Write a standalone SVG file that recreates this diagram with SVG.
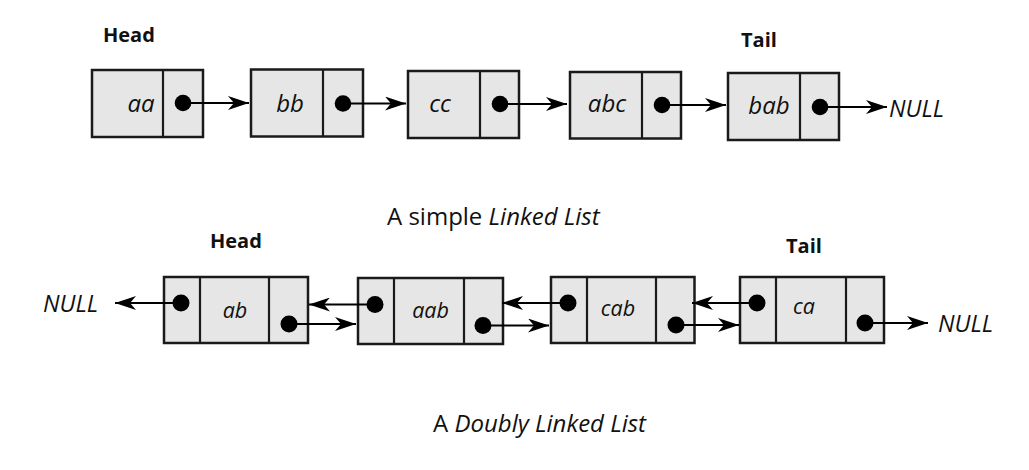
<svg xmlns="http://www.w3.org/2000/svg" width="1029" height="470" viewBox="0 0 1029 470">
<style>
.box{fill:#e6e6e6;stroke:#1a1a1a;stroke-width:2.5}
.div{stroke:#1a1a1a;stroke-width:2.2;fill:none}
.dot{fill:#000}
.ln{stroke:#000;stroke-width:2;fill:none;marker-end:url(#ah)}
.lbl{font-family:"Open Sans","Liberation Sans",Arial,sans-serif;font-style:italic;fill:#111;text-anchor:middle}
.big{font-size:24px}
.sm{font-size:21.5px}
.hd{font-family:"Open Sans","Liberation Sans",Arial,sans-serif;font-weight:bold;font-size:20px;fill:#111}
.null{font-family:"Open Sans","Liberation Sans",Arial,sans-serif;font-style:italic;font-size:23.5px;fill:#111}
.cap{font-family:"Open Sans","Liberation Sans",Arial,sans-serif;font-size:24px;fill:#111}
</style>
<defs>
<marker id="ah" markerUnits="userSpaceOnUse" viewBox="0 0 21 14" markerWidth="21" markerHeight="14" refX="21" refY="7" orient="auto">
<path d="M21 7 L0 0 L6 7 L0 14 Z" fill="#000"/>
</marker>
</defs>
<rect width="1029" height="470" fill="#fff"/>

<g id="labels">
<text class="hd" x="103" y="42">Head</text>
<text class="hd" x="741" y="47">Tail</text>
<text class="hd" x="210" y="248">Head</text>
<text class="hd" x="786" y="253">Tail</text>
<text class="null" x="889" y="117">NULL</text>
<text class="null" x="43" y="312">NULL</text>
<text class="null" x="938" y="332">NULL</text>
<text class="cap" x="387" y="225">A simple <tspan font-style="italic">Linked List</tspan></text>
<text class="cap" x="433" y="432">A <tspan font-style="italic">Doubly Linked List</tspan></text>
</g>

<g id="node-aa">
<rect class="box" x="92" y="70" width="111" height="67"/>
<line class="div" x1="163" y1="70" x2="163" y2="137"/>
<text class="lbl big" x="141" y="112">aa</text>
</g>
<g id="node-bb">
<rect class="box" x="251" y="69.5" width="112" height="67"/>
<line class="div" x1="323" y1="69.5" x2="323" y2="136.5"/>
<text class="lbl big" x="290" y="112">bb</text>
</g>
<g id="node-cc">
<rect class="box" x="408" y="71" width="111" height="67"/>
<line class="div" x1="480" y1="71" x2="480" y2="138"/>
<text class="lbl big" x="440" y="112">cc</text>
</g>
<g id="node-abc">
<rect class="box" x="570" y="72" width="111" height="66.5"/>
<line class="div" x1="642" y1="72" x2="642" y2="138.5"/>
<text class="lbl big" x="607" y="112">abc</text>
</g>
<g id="node-bab">
<rect class="box" x="728" y="73" width="111" height="67"/>
<line class="div" x1="800" y1="73" x2="800" y2="140"/>
<text class="lbl big" x="769" y="113.5">bab</text>
</g>

<g id="node-ab">
<rect class="box" x="164" y="277" width="144" height="66"/>
<line class="div" x1="200" y1="277" x2="200" y2="343"/>
<line class="div" x1="269" y1="277" x2="269" y2="343"/>
<text class="lbl sm" x="235" y="318">ab</text>
</g>
<g id="node-aab">
<rect class="box" x="358" y="278" width="145" height="66"/>
<line class="div" x1="394" y1="278" x2="394" y2="344"/>
<line class="div" x1="464" y1="278" x2="464" y2="344"/>
<text class="lbl sm" x="430.5" y="318">aab</text>
</g>
<g id="node-cab">
<rect class="box" x="551" y="277" width="143.5" height="66"/>
<line class="div" x1="587" y1="277" x2="587" y2="343"/>
<line class="div" x1="656" y1="277" x2="656" y2="343"/>
<text class="lbl sm" x="618" y="316">cab</text>
</g>
<g id="node-ca">
<rect class="box" x="740" y="277" width="144" height="66"/>
<line class="div" x1="776" y1="277" x2="776" y2="343"/>
<line class="div" x1="846" y1="277" x2="846" y2="343"/>
<text class="lbl sm" x="804" y="313.5">ca</text>
</g>

<g id="connectors">
<line class="ln" x1="183" y1="103" x2="249" y2="103"/>
<line class="ln" x1="343" y1="103.5" x2="406" y2="103.5"/>
<line class="ln" x1="500" y1="104" x2="567" y2="104"/>
<line class="ln" x1="662" y1="105" x2="726" y2="105"/>
<line class="ln" x1="820" y1="107" x2="887" y2="107"/>

<line class="ln" x1="181" y1="303" x2="115" y2="303"/>
<line class="ln" x1="375" y1="304.5" x2="309" y2="304.5"/>
<line class="ln" x1="289" y1="324" x2="356" y2="324"/>
<line class="ln" x1="568" y1="303" x2="502" y2="303"/>
<line class="ln" x1="483" y1="325.5" x2="549" y2="325.5"/>
<line class="ln" x1="757" y1="303" x2="692" y2="303"/>
<line class="ln" x1="676" y1="325" x2="739" y2="325"/>
<line class="ln" x1="865" y1="323" x2="928" y2="323"/>

<circle class="dot" cx="183" cy="103" r="8.3"/>
<circle class="dot" cx="343" cy="103.5" r="8.3"/>
<circle class="dot" cx="500" cy="104" r="8.3"/>
<circle class="dot" cx="662" cy="105" r="8.3"/>
<circle class="dot" cx="820" cy="107" r="8.3"/>
<circle class="dot" cx="181" cy="303" r="8.5"/>
<circle class="dot" cx="289" cy="324" r="8.5"/>
<circle class="dot" cx="375" cy="304.5" r="8.5"/>
<circle class="dot" cx="483" cy="325.5" r="8.5"/>
<circle class="dot" cx="568" cy="303" r="8.5"/>
<circle class="dot" cx="676" cy="325" r="8.5"/>
<circle class="dot" cx="757" cy="303" r="8.5"/>
<circle class="dot" cx="865" cy="323" r="8.5"/>
</g>
</svg>
